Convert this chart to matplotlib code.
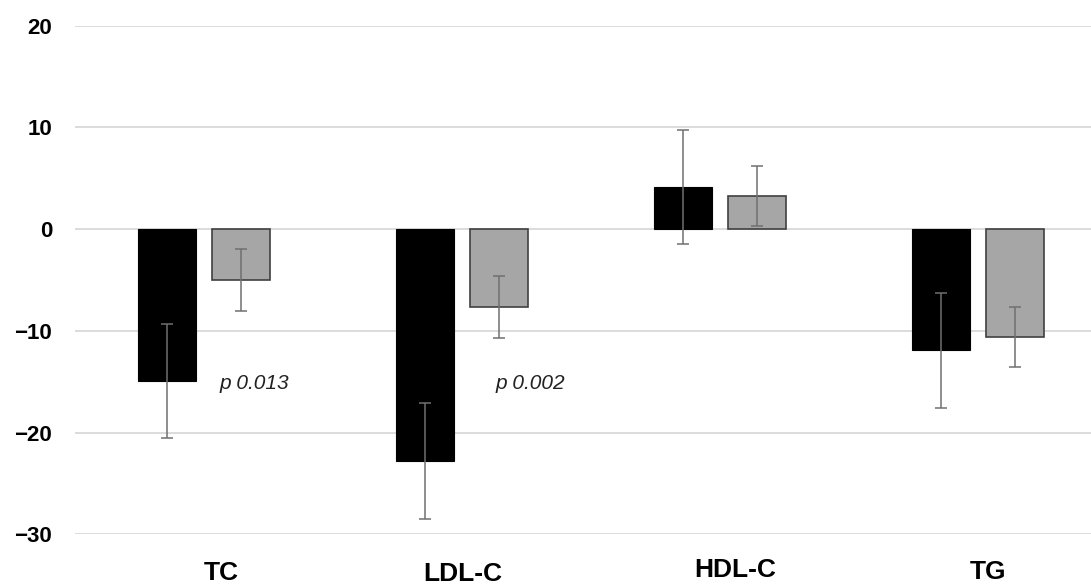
import matplotlib
matplotlib.use("Agg")
import matplotlib.pyplot as plt
import matplotlib.transforms as mtransforms
import numpy as np

categories = ["TC", "LDL-C", "HDL-C", "TG"]
group1_values = [-14.9, -22.8, 4.1, -11.9]
group1_errors = [5.6, 5.7, 5.6, 5.65]
group2_values = [-5.0, -7.7, 3.3, -10.6]
group2_errors = [3.0, 3.05, 2.95, 2.95]
p_labels = ["p 0.013", "p 0.002"]
y_ticks = [-30, -20, -10, 0, 10, 20]

plt.rcParams['font.family'] = ['Liberation Sans', 'DejaVu Sans']

fig = plt.figure(figsize=(10.91, 5.88), dpi=100)
ax = fig.add_axes([0.0687, 0.0913, 0.9455, 0.865])

x = np.arange(len(categories))
w = 0.225
off = 0.1435
ax.bar(x - off, group1_values, w, color="black", edgecolor="black", linewidth=0.8, zorder=2)
ax.bar(x + off, group2_values, w, color="#a6a6a6", edgecolor="#404040", linewidth=1.2, zorder=2)
ax.errorbar(x - off, group1_values, yerr=group1_errors, fmt="none", ecolor="#707070",
            elinewidth=1.1, capsize=4, capthick=1.1, zorder=3)
ax.errorbar(x + off, group2_values, yerr=group2_errors, fmt="none", ecolor="#707070",
            elinewidth=1.1, capsize=4, capthick=1.1, zorder=3)

ax.set_xlim(-0.5, len(categories) - 0.5)
ax.set_ylim(-30, 20)
ax.set_yticks(y_ticks)
ax.set_yticklabels([str(t).replace("-", "\u2212") for t in y_ticks], fontsize=16, fontweight="bold")
ax.tick_params(axis="y", length=0, pad=16.5)
ax.grid(axis="y", color="#d9d9d9", linewidth=1.3, zorder=0)
ax.set_axisbelow(True)
for s in ax.spines.values():
    s.set_visible(False)

ax.set_xticks(x)
ax.set_xticklabels(categories, fontsize=19, fontweight="bold")
ax.tick_params(axis="x", length=0, pad=19.5)
label_shifts = [(17, 0), (1, -1), (16, 3), (10, 1)]
for lbl, (dx, dy) in zip(ax.get_xticklabels(), label_shifts):
    lbl.set_transform(lbl.get_transform() + mtransforms.ScaledTranslation(dx / 100, dy / 100, fig.dpi_scale_trans))

p_x = [0.06, 1.13]
for px, lab in zip(p_x, p_labels):
    ax.text(px, -15.2, lab, fontsize=15, style="italic", color="#222222", ha="left", va="center")

fig.savefig("out.png", dpi=100)
